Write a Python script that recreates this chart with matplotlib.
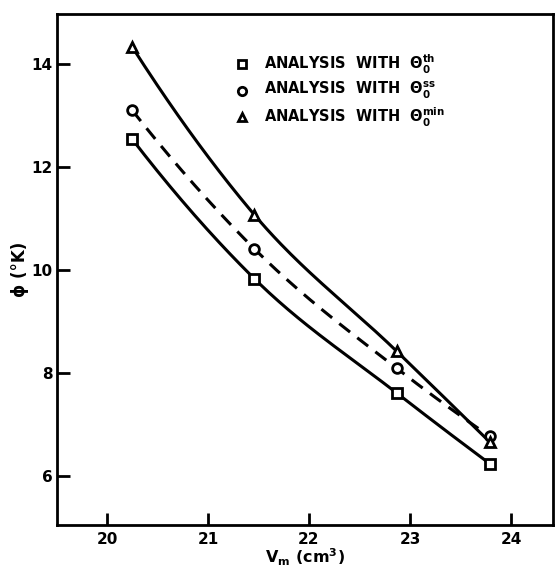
import numpy as np
import matplotlib
matplotlib.use('Agg')
import matplotlib.pyplot as plt

# volumes molaires (cm^3)
vm = [20.25, 21.46, 22.87, 23.79]

# phi (K) pour chaque analyse
phi_th = [12.54, 9.83, 7.61, 6.24]
phi_ss = [13.10, 10.41, 8.09, 6.77]
phi_min = [14.33, 11.07, 8.42, 6.66]

legendes = [r'ANALYSIS  WITH  $\Theta_0^{th}$',
            r'ANALYSIS  WITH  $\Theta_0^{ss}$',
            r'ANALYSIS  WITH  $\Theta_0^{min}$']

plt.rcParams['font.family'] = ['DejaVu Sans']
plt.rcParams['font.weight'] = 'bold'
plt.rcParams['mathtext.default'] = 'bf'


def courbe_lisse(x, y, n=60):
    # hermite cubique par morceaux, pentes de Bessel (parabole par 3 points)
    x = np.asarray(x, float)
    y = np.asarray(y, float)
    h = np.diff(x)
    d = np.diff(y) / h
    m = np.empty_like(y)
    m[1:-1] = (h[1:] * d[:-1] + h[:-1] * d[1:]) / (h[:-1] + h[1:])
    m[0] = ((2 * h[0] + h[1]) * d[0] - h[0] * d[1]) / (h[0] + h[1])
    m[-1] = ((2 * h[-1] + h[-2]) * d[-1] - h[-1] * d[-2]) / (h[-1] + h[-2])
    xx, yy = [], []
    for i in range(len(x) - 1):
        t = np.linspace(0, 1, n)
        h00 = 2 * t**3 - 3 * t**2 + 1
        h10 = t**3 - 2 * t**2 + t
        h01 = -2 * t**3 + 3 * t**2
        h11 = t**3 - t**2
        xx.append(x[i] + t * h[i])
        yy.append(h00 * y[i] + h10 * h[i] * m[i] + h01 * y[i + 1] + h11 * h[i] * m[i + 1])
    return np.concatenate(xx), np.concatenate(yy)


fig = plt.figure(figsize=(5.56, 5.70), dpi=100)
ax = fig.add_axes([0.1025, 0.079, 0.8921, 0.8964])

series = [(phi_th, 's', '-'), (phi_ss, 'o', (0, (4.5, 3))), (phi_min, '^', '-')]
for y, m, ls in series:
    xs, ys = courbe_lisse(vm, y)
    ax.plot(xs, ys, color='black', lw=2.2, ls=ls, zorder=2)
    ax.plot(vm, y, ls='none', marker=m, ms=7, mfc='white', mec='black', mew=2, zorder=3)

# legende faite a la main
for i, (m, txt) in enumerate(zip(['s', 'o', '^'], legendes)):
    yy = 0.902 - i * 0.052
    ax.plot([0.373], [yy], transform=ax.transAxes, marker=m, ms=6, mfc='white',
            mec='black', mew=2, ls='none', clip_on=False)
    ax.text(0.418, yy, txt, transform=ax.transAxes, fontsize=10.5,
            fontweight='bold', va='center', ha='left')

ax.set_xlim(19.505, 24.416)
ax.set_ylim(5.05, 14.97)
ax.set_xticks([20, 21, 22, 23, 24])
ax.set_yticks([6, 8, 10, 12, 14])
ax.tick_params(direction='in', length=9, width=2, labelsize=11)
ax.tick_params(axis='x', pad=5)
ax.tick_params(axis='y', pad=3)
for lab in ax.get_xticklabels() + ax.get_yticklabels():
    lab.set_fontweight('bold')
for s in ax.spines.values():
    s.set_linewidth(2)

ax.set_xlabel(r'V$_m$ (cm$^3$)', fontsize=11.5, fontweight='bold', labelpad=0)
ax.set_ylabel('ϕ (°K)', fontsize=12, fontweight='bold', labelpad=2)

plt.savefig('out.png', dpi=100)
